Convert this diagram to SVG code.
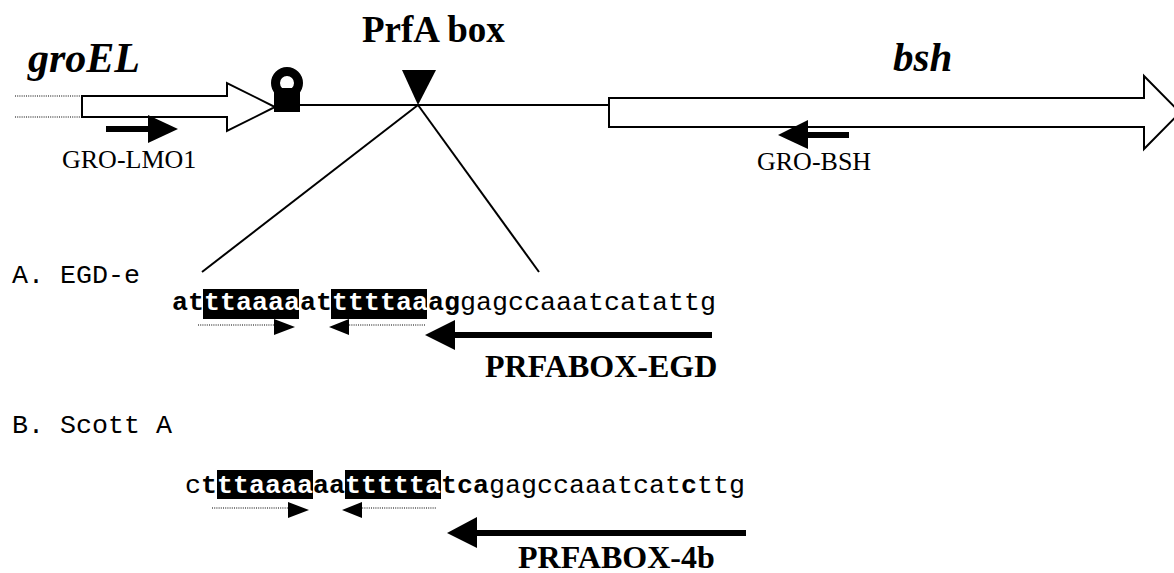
<svg xmlns="http://www.w3.org/2000/svg" width="1174" height="573" viewBox="0 0 1174 573">
<style>
.ser{font-family:"Liberation Serif","Times New Roman",serif;fill:#000}
.bi{font-weight:bold;font-style:italic}
.b{font-weight:bold}
.mono{font-family:"Liberation Mono","Courier New",monospace;font-size:26.667px;fill:#000}
.hl{fill:#fff;font-weight:bold}
.line{stroke:#000;stroke-width:2;fill:none}
.gene{stroke:#000;stroke-width:2;fill:#fff}
.dot{stroke:#000;stroke-width:1.2;stroke-dasharray:1 1.2;fill:none}
.thick{stroke:#000;stroke-width:6;fill:none}
</style>
<rect width="1174" height="573" fill="#fff"/>
<g id="connectors">
  <line class="line" x1="300" y1="105" x2="609" y2="105"/>
  <line class="line" x1="418" y1="105" x2="202" y2="272"/>
  <line class="line" x1="418" y1="105" x2="539" y2="272"/>
</g>
<g id="groEL">
  <line class="dot" x1="15" y1="96" x2="82" y2="96"/>
  <line class="dot" x1="15" y1="117" x2="82" y2="117"/>
  <path class="gene" d="M82,96 H227 V83 L275,107 L227,131 V117 H82 Z"/>
  <text class="ser bi" x="28" y="72" font-size="42">groEL</text>
</g>
<g id="terminator">
  <circle cx="287" cy="83" r="11.5" fill="none" stroke="#000" stroke-width="9"/>
  <rect x="274" y="88" width="26" height="24" fill="#000"/>
</g>
<g id="prfa-box">
  <path d="M402,70 H436 L418,105 Z" fill="#000"/>
  <text class="ser b" x="362" y="42" font-size="37">PrfA box</text>
</g>
<g id="bsh">
  <path class="gene" d="M609,98 H1144 V76 L1180,112.5 L1144,149 V127 H609 Z"/>
  <text class="ser bi" x="893" y="71" font-size="41">bsh</text>
</g>
<g id="GRO-LMO1">
  <line class="thick" x1="106" y1="129" x2="150" y2="129"/>
  <path d="M148,115 L178,129 L148,143 Z" fill="#000"/>
  <text class="ser" x="62" y="168" font-size="26">GRO-LMO1</text>
</g>
<g id="GRO-BSH">
  <line class="thick" x1="806" y1="135" x2="849" y2="135"/>
  <path d="M808,120 L778,135 L808,149 Z" fill="#000"/>
  <text class="ser" x="757" y="170" font-size="26">GRO-BSH</text>
</g>
<g id="seqA">
  <text class="mono" x="12" y="283">A. EGD-e</text>
  <rect x="203" y="289" width="96" height="30" fill="#000"/>
  <rect x="331" y="289" width="96" height="30" fill="#000"/>
  <text class="mono" x="172" y="310"><tspan class="b">at</tspan><tspan class="hl">ttaaaa</tspan><tspan class="b">at</tspan><tspan class="hl">ttttaa</tspan><tspan class="b">ag</tspan>gagccaaatcatattg</text>
  <line class="dot" x1="198" y1="325" x2="276" y2="325"/>
  <path d="M274,319 L295,327 L274,335 Z" fill="#000"/>
  <line class="dot" x1="347" y1="325" x2="425" y2="325"/>
  <path d="M349,319 L329,327 L349,335 Z" fill="#000"/>
</g>
<g id="PRFABOX-EGD">
  <line class="thick" x1="453" y1="335" x2="712" y2="335"/>
  <path d="M455,320 L425,335 L455,350 Z" fill="#000"/>
  <text class="ser b" x="485" y="377" font-size="32">PRFABOX-EGD</text>
</g>
<g id="seqB">
  <text class="mono" x="12" y="433">B. Scott A</text>
  <rect x="217" y="470" width="96" height="29" fill="#000"/>
  <rect x="345" y="470" width="96" height="29" fill="#000"/>
  <text class="mono" x="185" y="493">c<tspan class="b">t</tspan><tspan class="hl">ttaaaa</tspan><tspan class="b">aa</tspan><tspan class="hl">ttttta</tspan><tspan class="b">tca</tspan>gagccaaatcat<tspan class="b">c</tspan>ttg</text>
  <line class="dot" x1="212" y1="508" x2="290" y2="508"/>
  <path d="M288,502 L309,510 L288,518 Z" fill="#000"/>
  <line class="dot" x1="360" y1="508" x2="437" y2="508"/>
  <path d="M362,502 L342,510 L362,518 Z" fill="#000"/>
</g>
<g id="PRFABOX-4b">
  <line class="thick" x1="475" y1="533" x2="746" y2="533"/>
  <path d="M477,517 L447,533 L477,548 Z" fill="#000"/>
  <text class="ser b" x="518" y="568" font-size="32">PRFABOX-4b</text>
</g>
</svg>
